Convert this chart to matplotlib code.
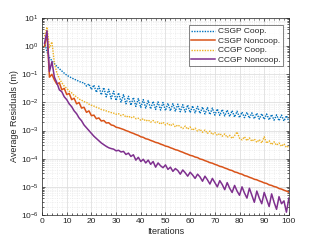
"""
Average residuals vs iterations for the four games (CSGP / CCGP)
"""

import numpy as np
import matplotlib
matplotlib.use('Agg')
import matplotlib.pyplot as plt
from matplotlib.ticker import MultipleLocator, FixedLocator, LogLocator, NullFormatter

plt.rcParams['font.family'] = ['Liberation Sans', 'DejaVu Sans']

iterations = list(range(1, 101))

# log10 of the average residual
csgp_coop_log = [
    0.15, -0.20, -0.40, -0.52, -0.62, -0.72, -0.80, -0.88, -0.96, -1.03,
    -1.08, -1.13, -1.17, -1.21, -1.25, -1.29, -1.30, -1.42, -1.34, -1.54,
    -1.38, -1.64, -1.42, -1.73, -1.47, -1.80, -1.53, -1.87, -1.60, -1.93,
    -1.66, -1.99, -1.72, -2.05, -1.78, -2.10, -1.82, -2.14, -1.86, -2.18,
    -1.90, -2.20, -1.93, -2.23, -1.96, -2.25, -1.98, -2.27, -2.00, -2.29,
    -2.03, -2.30, -2.04, -2.31, -2.06, -2.33, -2.08, -2.34, -2.09, -2.36,
    -2.12, -2.37, -2.14, -2.39, -2.16, -2.41, -2.18, -2.43, -2.20, -2.45,
    -2.23, -2.46, -2.25, -2.48, -2.27, -2.50, -2.29, -2.52, -2.31, -2.54,
    -2.34, -2.54, -2.35, -2.56, -2.37, -2.58, -2.38, -2.59, -2.40, -2.60,
    -2.41, -2.62, -2.43, -2.63, -2.44, -2.65, -2.45, -2.66, -2.47, -2.67,
]
csgp_noncoop_log = [
    0.00, 0.45, -1.10, -1.00, -1.20, -1.35, -1.30, -1.55, -1.50, -1.72,
    -1.68, -1.90, -1.85, -2.05, -2.00, -2.20, -2.17, -2.35, -2.30, -2.47,
    -2.45, -2.58, -2.55, -2.66, -2.64, -2.73, -2.72, -2.80, -2.82, -2.88,
    -2.90, -2.93, -2.96, -3.00, -3.03, -3.07, -3.10, -3.14, -3.17, -3.22,
    -3.24, -3.29, -3.31, -3.35, -3.38, -3.42, -3.44, -3.48, -3.51, -3.55,
    -3.57, -3.61, -3.64, -3.68, -3.70, -3.74, -3.77, -3.81, -3.84, -3.88,
    -3.90, -3.94, -3.96, -4.01, -4.03, -4.07, -4.10, -4.14, -4.16, -4.20,
    -4.23, -4.27, -4.29, -4.33, -4.36, -4.40, -4.42, -4.47, -4.49, -4.53,
    -4.55, -4.60, -4.62, -4.66, -4.69, -4.73, -4.75, -4.79, -4.82, -4.86,
    -4.88, -4.93, -4.95, -4.99, -5.01, -5.06, -5.08, -5.12, -5.15, -5.19,
]
ccgp_coop_log = [
    0.35, 0.68, -0.05, 0.15, -0.60, -0.95, -1.15, -1.30, -1.42, -1.50,
    -1.60, -1.66, -1.75, -1.80, -1.88, -1.92, -1.97, -2.00, -2.06, -2.10,
    -2.13, -2.17, -2.20, -2.25, -2.27, -2.30, -2.33, -2.36, -2.38, -2.42,
    -2.40, -2.47, -2.43, -2.52, -2.48, -2.55, -2.50, -2.58, -2.56, -2.63,
    -2.58, -2.66, -2.62, -2.70, -2.64, -2.72, -2.69, -2.77, -2.70, -2.80,
    -2.74, -2.83, -2.76, -2.87, -2.80, -2.86, -2.93, -2.84, -2.95, -2.87,
    -2.99, -2.91, -3.02, -2.95, -3.06, -2.98, -3.10, -3.02, -3.14, -3.07,
    -3.17, -3.10, -3.20, -3.12, -3.24, -3.17, -3.28, -3.18, -3.05, -3.27,
    -3.33, -3.22, -3.36, -3.26, -3.38, -3.30, -3.42, -3.32, -3.44, -3.22,
    -3.45, -3.36, -3.50, -3.40, -3.52, -3.44, -3.56, -3.47, -3.60, -3.55,
]
ccgp_noncoop_log = [
    0.10, 0.55, -0.90, -0.55, -1.10, -1.30, -1.55, -1.62, -1.80, -1.90,
    -2.05, -2.15, -2.30, -2.40, -2.55, -2.65, -2.80, -2.90, -3.00, -3.10,
    -3.20, -3.28, -3.36, -3.44, -3.50, -3.56, -3.61, -3.64, -3.66, -3.72,
    -3.70, -3.76, -3.74, -3.85, -3.80, -3.92, -3.86, -4.05, -3.95, -4.10,
    -4.02, -4.15, -4.05, -4.20, -4.10, -4.30, -4.15, -4.25, -4.32, -4.22,
    -4.38, -4.30, -4.45, -4.35, -4.42, -4.55, -4.40, -4.50, -4.62, -4.48,
    -4.58, -4.70, -4.55, -4.65, -4.80, -4.62, -4.75, -4.90, -4.70, -4.85,
    -5.00, -4.78, -4.92, -5.10, -4.85, -5.05, -5.20, -4.95, -5.15, -5.30,
    -5.00, -5.22, -5.40, -5.05, -5.30, -5.55, -5.15, -5.40, -5.60, -5.20,
    -5.45, -5.70, -5.25, -5.55, -5.80, -5.35, -5.60, -5.50, -5.90, -5.40,
]

labels = ['CSGP Coop.', 'CSGP Noncoop.', 'CCGP Coop.', 'CCGP Noncoop.']
y_ticks = [1e-6, 1e-5, 1e-4, 1e-3, 1e-2, 1e-1, 1e0, 1e1]

axis_col = '#262626'
dots = (0, (1.0, 0.9))

fig = plt.figure(figsize=(3.21, 2.41), dpi=100)
ax = fig.add_axes([0.131, 0.108, 0.769, 0.817])

ax.semilogy(iterations, np.power(10.0, csgp_coop_log), ls=dots, color='#0072BD', lw=1.0, label=labels[0])
ax.semilogy(iterations, np.power(10.0, csgp_noncoop_log), '-', color='#D95319', lw=1.1, label=labels[1])
ax.semilogy(iterations, np.power(10.0, ccgp_coop_log), ls=dots, color='#EDB120', lw=1.0, label=labels[2])
ax.semilogy(iterations, np.power(10.0, ccgp_noncoop_log), '-', color='#7E2F8E', lw=1.1, label=labels[3])

ax.set_xlim(0, 100)
ax.set_ylim(1e-6, 1e1)
ax.xaxis.set_major_locator(MultipleLocator(10))
ax.xaxis.set_minor_locator(MultipleLocator(2))
ax.yaxis.set_major_locator(FixedLocator(y_ticks))
ax.yaxis.set_minor_locator(LogLocator(base=10, subs=np.arange(2, 10), numticks=20))
ax.yaxis.set_minor_formatter(NullFormatter())

ax.grid(True, which='major', color='#dfdfdf', lw=0.6, ls='-')
ax.grid(True, which='minor', color='#e4e4e4', lw=0.5, ls=':')
ax.set_axisbelow(True)

ax.tick_params(which='both', direction='in', top=True, right=True, colors=axis_col,
               labelsize=6, width=0.5)
ax.tick_params(which='major', length=2.5, pad=2.5)
ax.tick_params(which='minor', length=1.3)
for sp in ax.spines.values():
    sp.set_color(axis_col)
    sp.set_linewidth(0.5)

ax.set_xlabel('Iterations', fontsize=6.5, color=axis_col, labelpad=1)
ax.set_ylabel('Average Residuals (m)', fontsize=6.5, color=axis_col, labelpad=1)

leg = ax.legend(loc='upper right', bbox_to_anchor=(0.976, 0.964), borderaxespad=0,
                fontsize=6, handlelength=2.8, handletextpad=0.4, labelspacing=0.2,
                borderpad=0.3, frameon=True, fancybox=False)
leg.get_frame().set_edgecolor(axis_col)
leg.get_frame().set_linewidth(0.5)
for t in leg.get_texts():
    t.set_color(axis_col)

fig.savefig('out.png', dpi=100)
